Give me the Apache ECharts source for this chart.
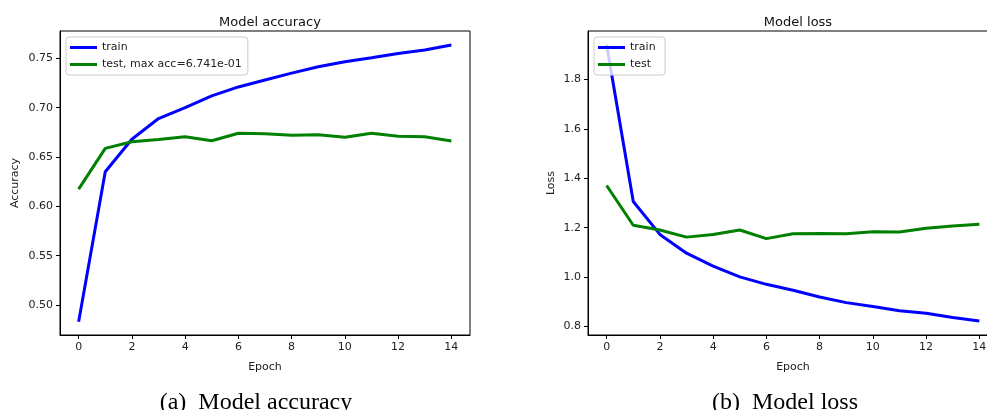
<!DOCTYPE html>
<html>
<head>
<meta charset="utf-8">
<script src="https://cdn.jsdelivr.net/npm/echarts@6/dist/echarts.min.js"></script>
<style>
  html, body { margin: 0; padding: 0; background: #fff; }
  #main { width: 987px; height: 410px; }
</style>
</head>
<body>
<div id="main"></div>
<script>
// values
var epochs = [0, 1, 2, 3, 4, 5, 6, 7, 8, 9, 10, 11, 12, 13, 14]
var trainAcc = [0.483, 0.635, 0.668, 0.689, 0.700, 0.712, 0.721, 0.728, 0.735, 0.7415, 0.7466, 0.7506, 0.755, 0.7585, 0.7635]
var testAcc = [0.6175, 0.6587, 0.6654, 0.6678, 0.6705, 0.6665, 0.6741, 0.6735, 0.672, 0.6725, 0.670, 0.6741, 0.671, 0.6705, 0.6663]
var trainLoss = [1.94, 1.306, 1.173, 1.097, 1.045, 1.001, 0.971, 0.947, 0.920, 0.897, 0.881, 0.864, 0.854, 0.837, 0.823]
var testLoss = [1.371, 1.210, 1.191, 1.162, 1.173, 1.191, 1.156, 1.176, 1.177, 1.176, 1.184, 1.183, 1.198, 1.207, 1.214]
var xTicks = [0, 2, 4, 6, 8, 10, 12, 14]
var accTicks = [0.50, 0.55, 0.60, 0.65, 0.70, 0.75]
var lossTicks = [0.8, 1.0, 1.2, 1.4, 1.6, 1.8]
var testAccName = 'test, max acc=6.741e-01'

function pairs(ys) {
  return epochs.map(function (x, i) {
    return [x, ys[i]]
  })
}

var font = 'DejaVu Sans'
var tickColor = '#222'

function xAxisFor(gridIndex) {
  return {
    type: 'value',
    gridIndex: gridIndex,
    min: -0.7,
    max: 14.7,
    name: 'Epoch',
    nameLocation: 'middle',
    nameGap: 27,
    nameTextStyle: { color: tickColor, fontFamily: font, fontSize: 11 },
    axisLine: { show: true, onZero: false, lineStyle: { color: '#000', width: 1 } },
    axisTick: { show: true, length: 4, customValues: xTicks, lineStyle: { color: '#000' } },
    axisLabel: { customValues: xTicks, color: tickColor, fontFamily: font, fontSize: 11, margin: 7 },
    splitLine: { show: false },
  }
}

function yAxisFor(gridIndex, min, max, ticks, digits, name, gap) {
  return {
    type: 'value',
    gridIndex: gridIndex,
    min: min,
    max: max,
    name: name,
    nameLocation: 'middle',
    nameRotate: 90,
    nameGap: gap,
    nameTextStyle: { color: tickColor, fontFamily: font, fontSize: 11 },
    axisLine: { show: true, onZero: false, lineStyle: { color: '#000', width: 1 } },
    axisTick: { show: true, length: 4, customValues: ticks, lineStyle: { color: '#000' } },
    axisLabel: {
      customValues: ticks,
      color: tickColor,
      fontFamily: font,
      fontSize: 11,
      margin: 7,
      formatter: function (v) {
        return v.toFixed(digits)
      },
    },
    splitLine: { show: false },
  }
}

function lineSeries(name, data, color, idx) {
  return {
    name: name,
    type: 'line',
    xAxisIndex: idx,
    yAxisIndex: idx,
    data: pairs(data),
    showSymbol: false,
    symbol: 'none',
    lineStyle: { color: color, width: 3 },
    itemStyle: { color: color },
    animation: false,
  }
}

var legendBase = {
  orient: 'vertical',
  top: 37,
  icon: 'rect',
  itemWidth: 27,
  itemHeight: 3,
  itemGap: 6,
  padding: [5, 6, 5, 4],
  borderColor: '#ccc',
  borderWidth: 1,
  borderRadius: 3,
  backgroundColor: 'rgba(255,255,255,0.8)',
  textStyle: { color: tickColor, fontFamily: font, fontSize: 11 },
}

var myChart = echarts.init(document.getElementById('main'))
myChart.setOption({
  animation: false,
  title: [
    { text: 'Model accuracy', left: 265, top: 11, textAlign: 'center', textStyle: { fontFamily: font, fontSize: 13, fontWeight: 'normal', color: '#111' } },
    { text: 'Model loss', left: 793, top: 11, textAlign: 'center', textStyle: { fontFamily: font, fontSize: 13, fontWeight: 'normal', color: '#111' } },
    { text: '(a)  Model accuracy', left: 251, top: 386, textAlign: 'center', textStyle: { fontFamily: 'Liberation Serif', fontSize: 24, fontWeight: 'normal', color: '#000' } },
    { text: '(b)  Model loss', left: 780, top: 386, textAlign: 'center', textStyle: { fontFamily: 'Liberation Serif', fontSize: 24, fontWeight: 'normal', color: '#000' } },
  ],
  legend: [
    Object.assign({}, legendBase, { left: 66, data: ['train', testAccName] }),
    Object.assign({}, legendBase, { left: 594, data: ['train ', 'test '] }),
  ],
  grid: [
    { left: 60, top: 31, width: 410, height: 304, outerBoundsMode: 'none', show: true, borderColor: '#000', borderWidth: 1, backgroundColor: 'transparent' },
    { left: 588, top: 31, width: 410, height: 304, outerBoundsMode: 'none', show: true, borderColor: '#000', borderWidth: 1, backgroundColor: 'transparent' },
  ],
  xAxis: [xAxisFor(0), xAxisFor(1)],
  yAxis: [
    yAxisFor(0, 0.4696, 0.7777, accTicks, 2, 'Accuracy', 39),
    yAxisFor(1, 0.766, 1.996, lossTicks, 1, 'Loss', 31),
  ],
  series: [
    lineSeries('train', trainAcc, '#0000ff', 0),
    lineSeries(testAccName, testAcc, '#008000', 0),
    lineSeries('train ', trainLoss, '#0000ff', 1),
    lineSeries('test ', testLoss, '#008000', 1),
  ],
})
</script>
</body>
</html>
